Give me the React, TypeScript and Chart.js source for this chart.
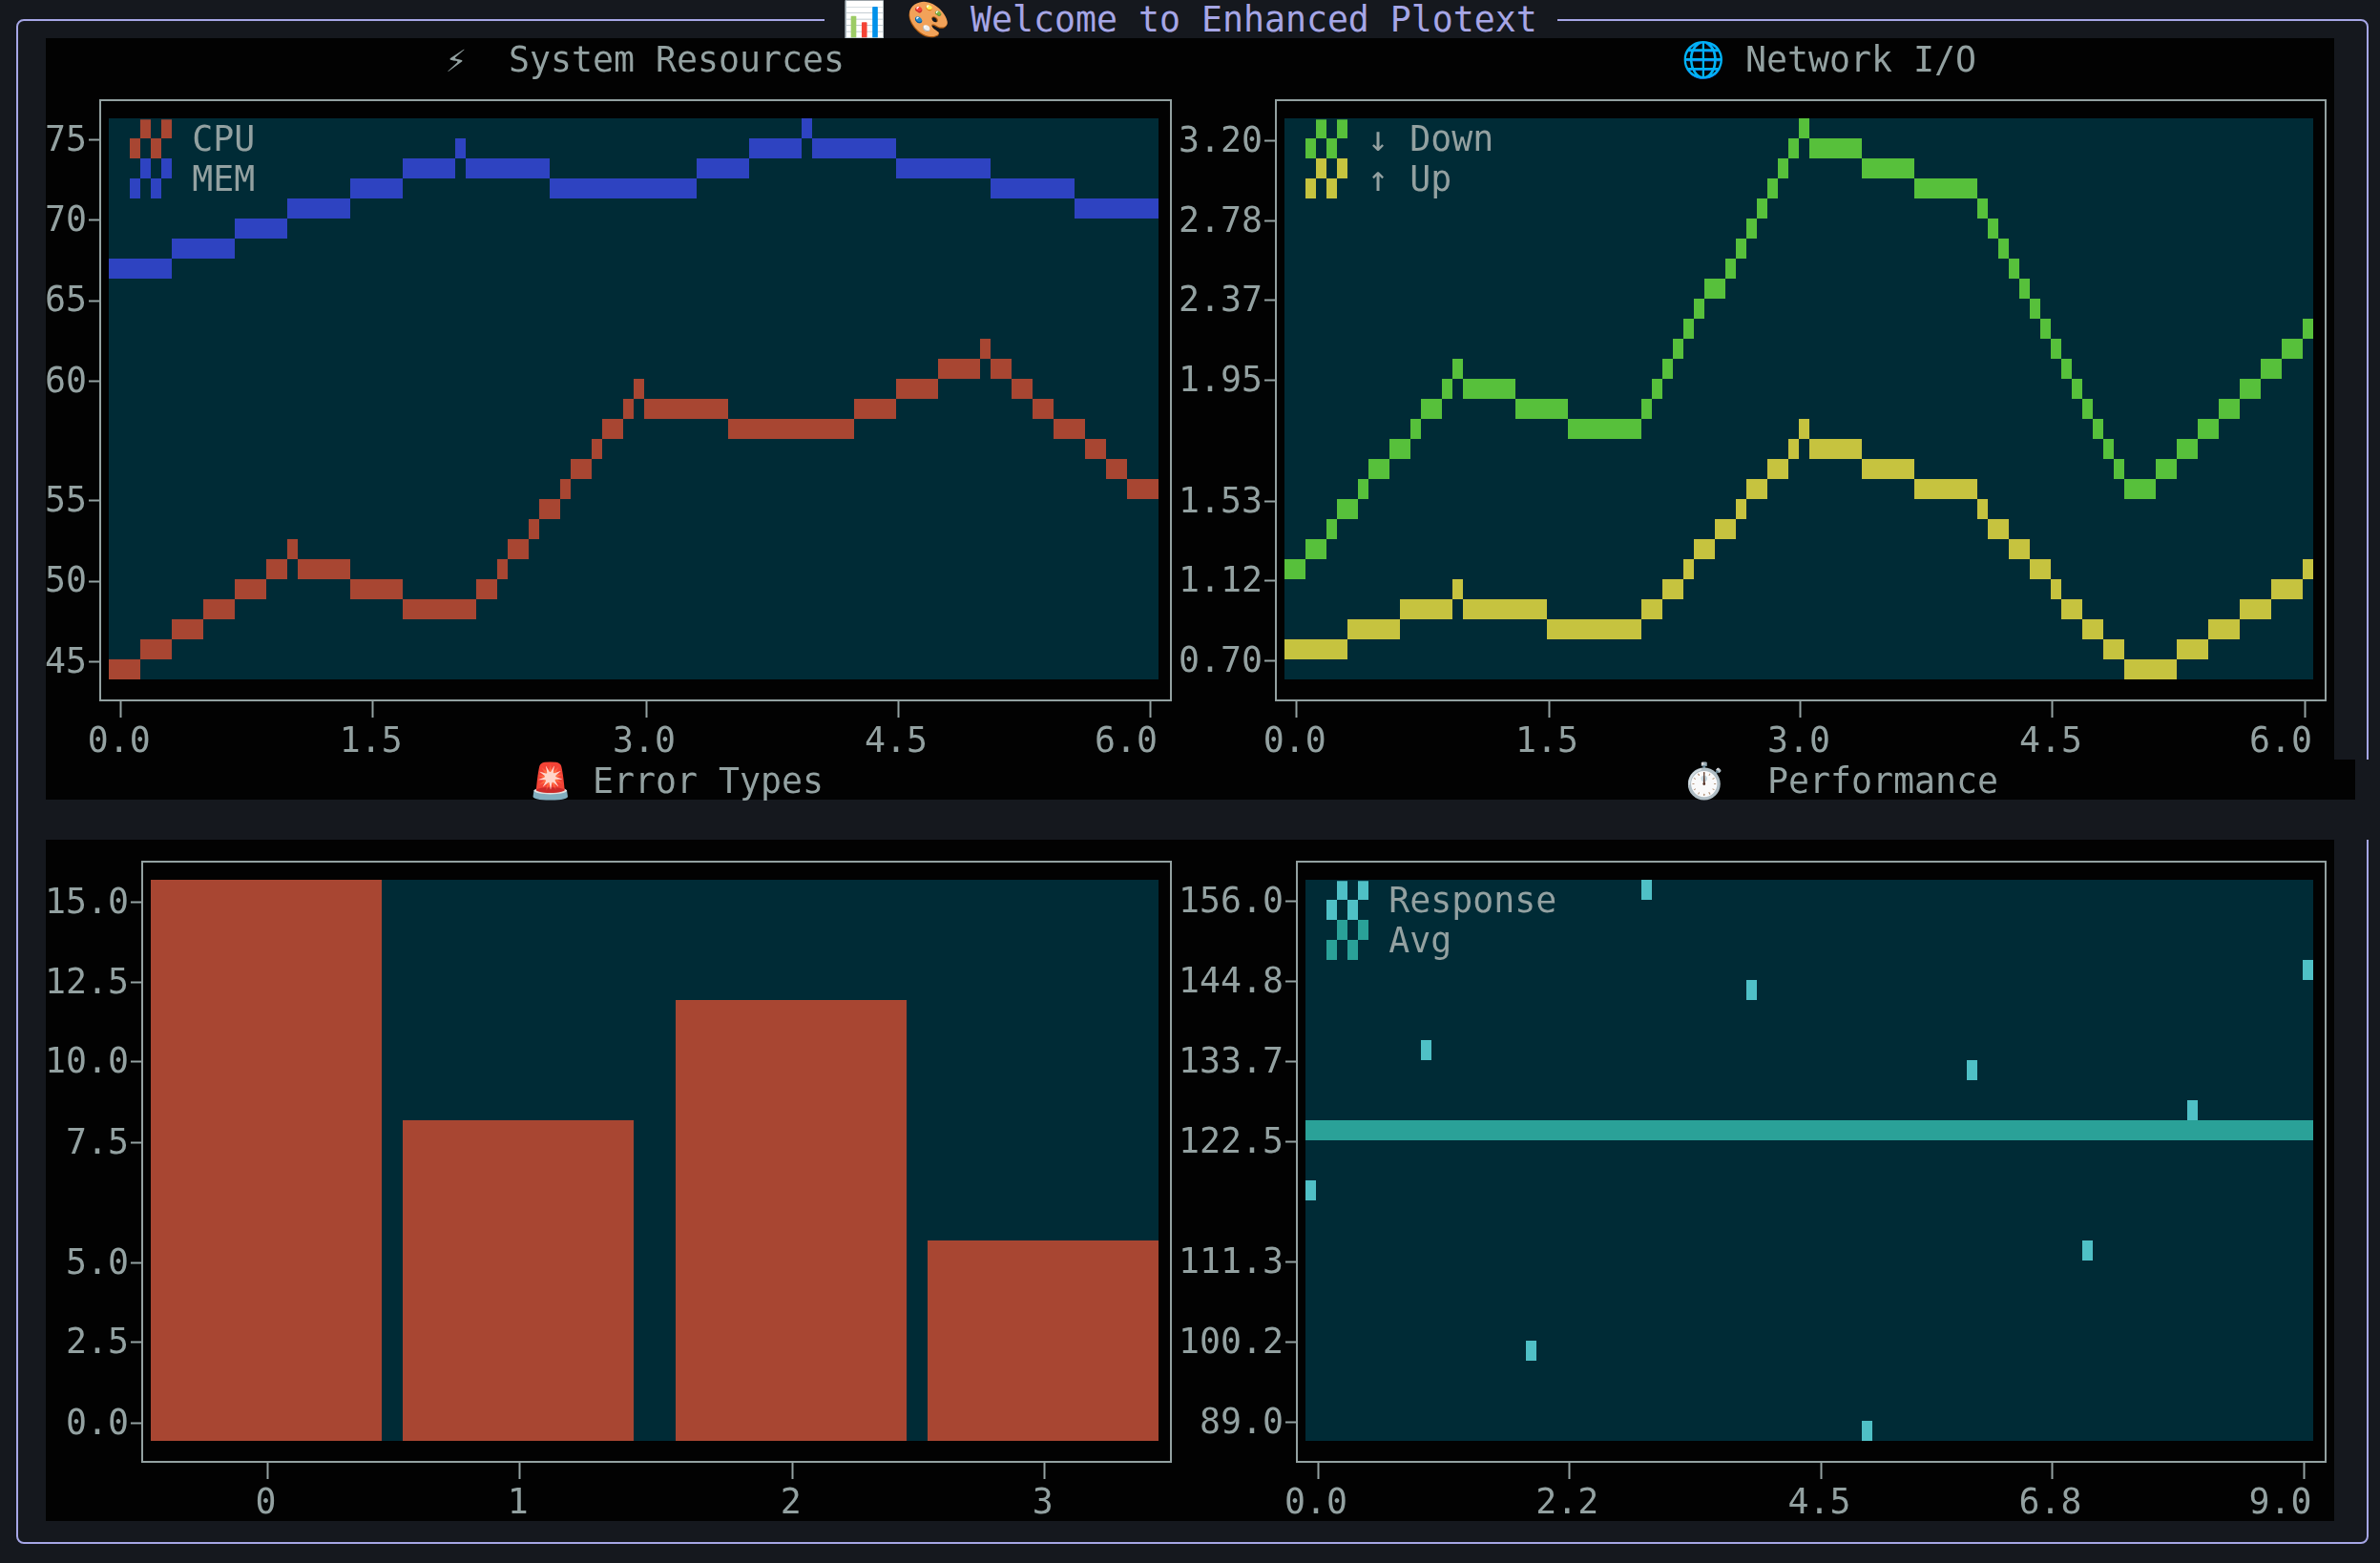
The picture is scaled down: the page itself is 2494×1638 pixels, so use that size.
import React, { useEffect, useRef } from "react";
import { Chart, registerables } from "chart.js";

Chart.register(...registerables);

const FONT = "'DejaVu Sans Mono', 'DejaVu Sans', monospace";
const FONT_SIZE = 36.54;
const TEXT = "#93a1a1";
const PLOT_BG = "#002b36";
const PAGE_BG = "#15181e";
const ACCENT = "#a6a6e6";

const CPU_STEPS = [[0,.18,45.5],[.18,.36,46.7],[.36,.54,47.8],[.54,.72,48.9],[.72,.9,50],[.9,1.02,51.1],[1.02,1.08,52.2],[1.08,1.38,51.1],[1.38,1.68,50],[1.68,2.1,48.9],[2.1,2.22,50],[2.22,2.28,51.1],[2.28,2.4,52.2],[2.4,2.46,53.3],[2.46,2.58,54.4],[2.58,2.64,55.5],[2.64,2.76,56.6],[2.76,2.82,57.7],[2.82,2.94,58.8],[2.94,3,60],[3,3.06,61.1],[3.06,3.54,60],[3.54,4.26,58.8],[4.26,4.5,60],[4.5,4.74,61.1],[4.74,4.98,62.2],[4.98,5.04,63.3],[5.04,5.16,62.2],[5.16,5.28,61.1],[5.28,5.4,60],[5.4,5.58,58.8],[5.58,5.7,57.7],[5.7,5.82,56.6],[5.82,6,55.5]];
const MEM_STEPS = [[0,.36,67.7],[.36,.72,68.8],[.72,1.02,69.9],[1.02,1.38,71],[1.38,1.68,72.1],[1.68,1.98,73.2],[1.98,2.04,74.3],[2.04,2.52,73.2],[2.52,3.36,72.1],[3.36,3.66,73.2],[3.66,3.96,74.3],[3.96,4.02,75.5],[4.02,4.5,74.3],[4.5,5.04,73.2],[5.04,5.52,72.1],[5.52,6,71]];
const SYS_Y_LABELS = ["75","70","65","60","55","50","45"];
const SYS_Y_AT = [74.79,70.36,65.93,61.5,54.86,50.43,46];
const SYS_X_LABELS = ["0.0","1.5","3.0","4.5","6.0"];
const SYS_X_AT = [.07,1.509,3.071,4.511,5.951];

// ---- Network I/O
const DOWN_STEPS = [[0,.12,1.19],[.12,.24,1.28],[.24,.31,1.37],[.31,.43,1.46],[.43,.49,1.55],[.49,.61,1.64],[.61,.73,1.73],[.73,.8,1.82],[.8,.92,1.91],[.92,.98,1.99],[.98,1.04,2.08],[1.04,1.35,1.99],[1.35,1.65,1.91],[1.65,2.08,1.82],[2.08,2.14,1.91],[2.14,2.2,1.99],[2.2,2.27,2.08],[2.27,2.33,2.17],[2.33,2.39,2.26],[2.39,2.45,2.35],[2.45,2.57,2.44],[2.57,2.63,2.53],[2.63,2.69,2.62],[2.69,2.76,2.71],[2.76,2.82,2.8],[2.82,2.88,2.89],[2.88,2.94,2.98],[2.94,3,3.07],[3,3.06,3.16],[3.06,3.37,3.07],[3.37,3.67,2.98],[3.67,4.04,2.89],[4.04,4.1,2.8],[4.1,4.16,2.71],[4.16,4.22,2.62],[4.22,4.29,2.53],[4.29,4.35,2.44],[4.35,4.41,2.35],[4.41,4.47,2.26],[4.47,4.53,2.17],[4.53,4.59,2.08],[4.59,4.65,1.99],[4.65,4.71,1.91],[4.71,4.78,1.82],[4.78,4.84,1.73],[4.84,4.9,1.64],[4.9,5.08,1.55],[5.08,5.2,1.64],[5.2,5.33,1.73],[5.33,5.45,1.82],[5.45,5.57,1.91],[5.57,5.69,1.99],[5.69,5.82,2.08],[5.82,5.94,2.17],[5.94,6,2.26]];
const UP_STEPS = [[0,.37,.83],[.37,.67,.92],[.67,.98,1.01],[.98,1.04,1.1],[1.04,1.53,1.01],[1.53,2.08,.92],[2.08,2.2,1.01],[2.2,2.33,1.1],[2.33,2.39,1.19],[2.39,2.51,1.28],[2.51,2.63,1.37],[2.63,2.69,1.46],[2.69,2.82,1.55],[2.82,2.94,1.64],[2.94,3,1.73],[3,3.06,1.82],[3.06,3.37,1.73],[3.37,3.67,1.64],[3.67,4.04,1.55],[4.04,4.1,1.46],[4.1,4.22,1.37],[4.22,4.35,1.28],[4.35,4.47,1.19],[4.47,4.53,1.1],[4.53,4.65,1.01],[4.65,4.78,.92],[4.78,4.9,.83],[4.9,5.2,.74],[5.2,5.39,.83],[5.39,5.57,.92],[5.57,5.76,1.01],[5.76,5.94,1.1],[5.94,6,1.19]];
const NET_Y_LABELS = ["3.20","2.78","2.37","1.95","1.53","1.12","0.70"];
const NET_Y_AT = [3.102,2.745,2.388,2.031,1.495,1.138,.781];
const NET_X_LABELS = ["0.0","1.5","3.0","4.5","6.0"];
const NET_X_AT = [.071,1.542,3.011,4.48,5.95];

// ---- Error Types
const ERROR_CATEGORIES = ["0","1","2","3"];
const ERROR_POS = [0,.973,2.027,3];
const ERROR_VALUES = [15,8.6,11.8,5.4];
const ERR_Y_LABELS = ["15.0","12.5","10.0","7.5","5.0","2.5","0.0"];
const ERR_Y_AT = [14.41,12.27,10.13,7.98,4.77,2.63,.48];
const ERR_X_AT = [.006,.979,2.033,3.006];

// ---- Performance
const RESPONSE_X = [.05,1.08,2.02,3.05,3.98,5.02,5.95,6.98,7.92,8.95];
const RESPONSE_Y = [118.9,135.7,99.8,154.8,142.8,90.2,133.3,111.7,128.5,145.2];
const AVG_X = [0,9];
const AVG_Y = [126.1,126.1];
const PERF_Y_LABELS = ["156.0","144.8","133.7","122.5","111.3","100.2","89.0"];
const PERF_Y_AT = [153.38,143.81,134.24,124.67,110.31,100.74,91.17];
const PERF_X_LABELS = ["0.0","2.2","4.5","6.8","9.0"];
const PERF_X_AT = [.111,2.355,4.606,6.67,8.92];

const CW = 11, RH = 21;

function checker(color: string) {
  const c = document.createElement("canvas");
  c.width = 44; c.height = 50;
  const g = c.getContext("2d")!;
  g.fillStyle = color;
  [[11,0],[33,0],[0,21],[22,21]].forEach(([x,y]) => g.fillRect(x,y,11,21));
  return c;
}
function cell(color: string) {
  const c = document.createElement("canvas");
  c.width = CW; c.height = RH;
  const g = c.getContext("2d")!;
  g.fillStyle = color;
  g.fillRect(0,0,CW,RH);
  return c;
}
const steps = (s: number[][]) => s.map(([a,b,y]) => ({ x: [a,b], y }));

type Panel = {
  canvas: [number,number,number,number];
  frame: [number,number,number,number];
  plot: [number,number,number,number];
  xRange: [number,number];
  yRange: [number,number];
  xAt: number[]; xLabels: string[];
  yAt: number[]; yLabels: string[];
  titleText: string; titleX: number; titleBottom: number;
  xPad: number; lastShift: number;
  legend?: { text: string; color: string }[];
  build: () => any;
};

const LEFT_CANVAS = 40, LEFT_W = 1240, RIGHT_CANVAS = 1200, RIGHT_W = 1294;

const PANELS: Panel[] = [
  {
    canvas: [LEFT_CANVAS,40,LEFT_W,756], frame: [105,105,1227,734], plot: [114,124,1214,712],
    xRange: [0,6], yRange: [45,76], xAt: SYS_X_AT, xLabels: SYS_X_LABELS, yAt: SYS_Y_AT, yLabels: SYS_Y_LABELS,
    titleText: "⚡︎  System Resources", titleX: 467, titleBottom: 18, xPad: 6, lastShift: -23,
    legend: [{ text: "CPU", color: "#a84632" },{ text: "MEM", color: "#2e43c1" }],
    build: () => ({ type: "bar", indexAxis: "y", datasets: [
      { label: "CPU", data: steps(CPU_STEPS), backgroundColor: "#a84632" },
      { label: "MEM", data: steps(MEM_STEPS), backgroundColor: "#2e43c1" },
    ], thickness: RH, grouped: false }),
  },
  {
    canvas: [RIGHT_CANVAS,40,RIGHT_W,756], frame: [1337,105,2437,734], plot: [1346,124,2424,712],
    xRange: [0,6], yRange: [.7,3.2], xAt: NET_X_AT, xLabels: NET_X_LABELS, yAt: NET_Y_AT, yLabels: NET_Y_LABELS,
    titleText: "🌐 Network I/O", titleX: 1762, titleBottom: 18, xPad: 6, lastShift: -23,
    legend: [{ text: "↓ Down", color: "#57c03b" },{ text: "↑ Up", color: "#c6c33f" }],
    build: () => ({ type: "bar", indexAxis: "y", datasets: [
      { label: "↓ Down", data: steps(DOWN_STEPS), backgroundColor: "#57c03b" },
      { label: "↑ Up", data: steps(UP_STEPS), backgroundColor: "#c6c33f" },
    ], thickness: RH, grouped: false }),
  },
  {
    canvas: [LEFT_CANVAS,796,LEFT_W,798], frame: [149,903,1227,1532], plot: [158,922,1214,1510],
    xRange: [-.4459,3.4459], yRange: [0,15], xAt: ERR_X_AT, xLabels: ERROR_CATEGORIES, yAt: ERR_Y_AT, yLabels: ERR_Y_LABELS,
    titleText: "🚨 Error Types", titleX: 554, titleBottom: 60, xPad: 6, lastShift: 0,
    build: () => ({ type: "bar", datasets: [
      { label: "Errors", data: ERROR_POS.map((x,i) => ({ x, y: ERROR_VALUES[i] })), backgroundColor: "#a84632" },
    ], thickness: 242, grouped: false }),
  },
  {
    canvas: [RIGHT_CANVAS,796,RIGHT_W,798], frame: [1359,903,2437,1532], plot: [1368,922,2424,1510],
    xRange: [0,9], yRange: [89,156], xAt: PERF_X_AT, xLabels: PERF_X_LABELS, yAt: PERF_Y_AT, yLabels: PERF_Y_LABELS,
    titleText: "⏱️  Performance", titleX: 1763, titleBottom: 60, xPad: 6, lastShift: -23,
    legend: [{ text: "Response", color: "#4fc0c6" },{ text: "Avg", color: "#2aa198" }],
    build: () => ({ type: "scatter", datasets: [
      { label: "Response", type: "scatter", data: RESPONSE_X.map((x,i) => ({ x, y: RESPONSE_Y[i] })), pointStyle: cell("#4fc0c6"), pointRadius: 6, order: 0 },
      { label: "Avg", type: "line", data: AVG_X.map((x,i) => ({ x, y: AVG_Y[i] })), borderColor: "#2aa198", borderWidth: RH, pointRadius: 0, borderCapStyle: "butt", order: 1 },
    ] }),
  },
];

function ChartPanel({ p }: { p: Panel }) {
  const ref = useRef<HTMLCanvasElement>(null);
  useEffect(() => {
    const [cx,cy,cw,ch] = p.canvas;
    const [fl,ft,fr,fb] = p.frame;
    const [pl,pt,pr,pb] = p.plot;
    const xPerPx = (p.xRange[1]-p.xRange[0])/(pr-pl);
    const yPerPx = (p.yRange[1]-p.yRange[0])/(pb-pt);
    const spec = p.build();
    const plugin = {
      id: "terminal",
      afterLayout(chart: any) {
        const t = chart.titleBlock;
        t.left = p.titleX - cx; t.right = t.left + 1000;
        if (chart.legend && p.legend) {
          chart.legend.left = pl - cx + 19 - 5.5;
          chart.legend.top = pt - cy + 2.73 - 5.46 + 4;
        }
      },
      afterUpdate(chart: any) {
        const L = pl - cx, T = pt - cy;
        const col = (v: number) => L + Math.round((v-L)/CW)*CW;
        const rowMid = (v: number) => T + (Math.floor((v-T)/RH)+.5)*RH;
        const rowEdge = (v: number) => T + Math.round((v-T)/RH)*RH;
        chart.data.datasets.forEach((d: any, i: number) => {
          const meta = chart.getDatasetMeta(i);
          meta.data.forEach((el: any) => {
            if (meta.type === "bar") {
              if (spec.indexAxis === "y") {
                el.x = col(el.x); el.base = col(el.base); el.y = rowMid(el.y);
              } else {
                const half = el.width/2;
                el.x = col(el.x-half)+half; el.y = rowEdge(el.y); el.base = rowEdge(el.base);
              }
            } else if (meta.type === "scatter") {
              el.x = L + (Math.floor((el.x-L)/CW)+.5)*CW; el.y = rowMid(el.y);
            } else {
              el.y = rowMid(el.y);
            }
          });
        });
      },
      beforeDraw(chart: any) {
        const g = chart.ctx;
        g.save();
        g.fillStyle = PLOT_BG;
        g.fillRect(pl-cx, pt-cy, pr-pl, pb-pt);
        g.strokeStyle = TEXT; g.lineWidth = 2;
        g.strokeRect(fl-cx, ft-cy, fr-fl, fb-ft);
        g.restore();
        if (p.lastShift) {
          const items = chart.scales.x.getLabelItems();
          const last = items[items.length-1];
          last.options.translation = [last.options.translation[0]+p.lastShift, last.options.translation[1]];
        }
      },
    };
    const chart = new Chart(ref.current!, {
      type: spec.type,
      data: { datasets: spec.datasets.map((d: any) => ({
        inflateAmount: 0, barThickness: spec.thickness, grouped: spec.grouped, ...d })) },
      plugins: [plugin],
      options: {
        animation: false, responsive: false, events: [], indexAxis: spec.indexAxis ?? "x",
        layout: { padding: { left: 0, top: 0, right: cx+cw-fr, bottom: 0 } },
        plugins: {
          tooltip: { enabled: false },
          title: { display: true, text: p.titleText, align: "start", color: TEXT,
            font: { family: FONT, size: FONT_SIZE, weight: "normal", lineHeight: 42/FONT_SIZE },
            padding: { top: ft-cy-42-p.titleBottom, bottom: p.titleBottom } },
          legend: p.legend ? {
            display: true, position: "chartArea", align: "start",
            labels: {
              usePointStyle: true, pointStyleWidth: 50, padding: 5.46, color: TEXT,
              font: { family: FONT, size: FONT_SIZE },
              generateLabels: () => p.legend!.map((l,i) => ({
                text: l.text, fontColor: TEXT, pointStyle: checker(l.color), fillStyle: l.color,
                strokeStyle: l.color, lineWidth: 0, hidden: false, datasetIndex: i, rotation: 0,
              })),
            },
          } : { display: false },
        },
        scales: {
          x: {
            type: "linear", offset: false,
            min: p.xRange[0]-(pl-fl)*xPerPx, max: p.xRange[1]+(fr-pr)*xPerPx,
            grid: { offset: false, drawOnChartArea: false, drawTicks: true, tickLength: 18, tickWidth: 2, tickColor: TEXT },
            border: { display: true, color: TEXT, width: 2 },
            ticks: { autoSkip: false, maxRotation: 0, minRotation: 0, color: TEXT, labelOffset: -2, padding: p.xPad,
              font: { family: FONT, size: FONT_SIZE, lineHeight: 42/FONT_SIZE },
              callback: (_v: any, i: number) => p.xLabels[i] },
            afterBuildTicks: (s: any) => { s.ticks = p.xAt.map(value => ({ value })); },
            afterFit: (s: any) => { s.height = cy+ch-fb; s.paddingLeft = 0; s.paddingRight = 0; },
          },
          y: {
            type: "linear", offset: false,
            min: p.yRange[0]-(fb-pb)*yPerPx, max: p.yRange[1]+(pt-ft)*yPerPx,
            grid: { offset: false, drawOnChartArea: false, drawTicks: true, tickLength: 12, tickWidth: 2, tickColor: TEXT },
            border: { display: true, color: TEXT, width: 2 },
            ticks: { autoSkip: false, color: TEXT, padding: 2, labelOffset: 2,
              font: { family: FONT, size: FONT_SIZE, lineHeight: 42/FONT_SIZE },
              callback: (_v: any, i: number) => p.yLabels[i] },
            afterBuildTicks: (s: any) => { s.ticks = p.yAt.map(value => ({ value })); },
            afterFit: (s: any) => { s.width = fl-cx; s.paddingTop = 0; s.paddingBottom = 0; },
          },
        },
      } as any,
    } as any);
    return () => chart.destroy();
  }, []);
  const [cx,cy,cw,ch] = p.canvas;
  return <canvas ref={ref} width={cw} height={ch} style={{ position: "absolute", left: cx, top: cy, width: cw, height: ch, display: "block" }} />;
}

const box = (l: number, t: number, w: number, h: number, bg: string): React.CSSProperties =>
  ({ position: "absolute", left: l, top: t, width: w, height: h, background: bg });

export default function App() {
  useEffect(() => { document.body.style.margin = "0"; document.body.style.background = PAGE_BG; }, []);
  return (
    <div style={{ position: "absolute", left: 0, top: 0, width: 2494, height: 1638, overflow: "hidden", background: PAGE_BG, fontFamily: FONT }}>
      <div style={{ position: "absolute", left: 17, top: 20, width: 2465, height: 1598, boxSizing: "border-box", border: `2px solid ${ACCENT}`, borderRadius: 8 }} />
      <div style={box(864,0,768,40,PAGE_BG)} />
      <div style={box(2468,796,22,84,PAGE_BG)} />
      <div style={{ position: "absolute", left: 883, top: 0, height: 42, lineHeight: "42px", fontSize: FONT_SIZE, color: ACCENT, whiteSpace: "pre" }}>📊 🎨 Welcome to Enhanced Plotext</div>
      <div style={box(48,40,2398,756,"#020202")} />
      <div style={box(48,796,2420,42,"#020202")} />
      <div style={box(48,880,2398,714,"#020202")} />
      {PANELS.map((p,i) => <ChartPanel key={i} p={p} />)}
    </div>
  );
}
